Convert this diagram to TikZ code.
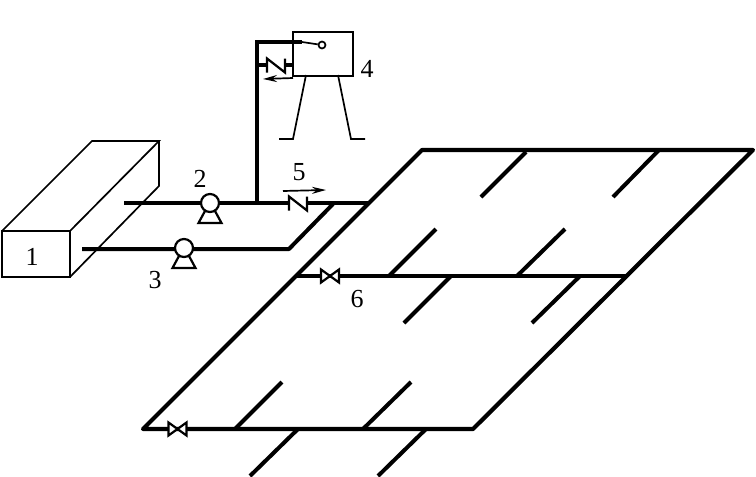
\documentclass[tikz,border=0pt]{standalone}
\usepackage{fontspec}
\setmainfont{Liberation Serif}
\usetikzlibrary{arrows.meta}
\tikzset{
  pipe/.style={line width=4.2pt,line cap=round,line join=miter,draw=black},
  branch/.style={line width=4pt,line cap=butt,draw=black},
  thin line/.style={line width=1.7pt,draw=black},
  lbl/.style={font=\fontsize{26}{26}\selectfont,inner sep=0pt},
  pumpbody/.style={circle,draw=black,line width=2.2pt,fill=white,minimum size=18pt,inner sep=0pt},
  bowtie/.pic={\draw[line width=2.2pt,fill=white,draw=black,line join=miter] (-9,-6.5)--(9,6.5)--(9,-6.5)--(-9,6.5)--cycle;},
  check/.pic={\fill[white](-9,-7)rectangle(9,7);\draw[line width=2.2pt,draw=black] (-9,7)--(-9,-7)--(9,7)--(9,-7);},
  pumpfoot/.pic={\draw[line width=2.2pt,draw=black,fill=white] (-5,8)--(5,8)--(11.5,20)--(-11.5,20)--cycle;},
}
\begin{document}
\begin{tikzpicture}[x=1pt,y=-1pt]
\useasboundingbox (0,0) rectangle (756,477);
% tank
\coordinate (tfl) at (2,231); \coordinate (tfr) at (70,231);
\coordinate (tbl) at (92,141); \coordinate (tbr) at (159,141);
\coordinate (tbb) at (159,186); \coordinate (tdr) at (70,277); \coordinate (tdl) at (2,277);
\draw[thin line,line join=miter] (tfl)--(tfr)--(tdr)--(tdl)--cycle;
\draw[thin line] (tfl)--(tbl)--(tbr)--(tfr);
\draw[thin line] (tbr)--(tbb)--(tdr);
\node[lbl] (n1) at (32,257) {1};
% grid
\coordinate (a) at (422,150); \coordinate (b) at (753,150);
\coordinate (c) at (473,429); \coordinate (d) at (143,429);
\coordinate (e) at (297,276); \coordinate (f) at (628,276);
\draw[pipe,line join=round] (a)--(b)--(c)--(d)--cycle;
\draw[branch] (e)--(f);
\draw[branch] (526,152)--(481,197);
\draw[branch] (659,150)--(613,197);
\draw[branch] (436,229)--(389,276);
\draw[branch] (565,229)--(517,276);
\draw[branch] (451,276)--(404,323);
\draw[branch] (580,276)--(532,323);
\draw[branch] (282,382)--(235,429);
\draw[branch] (411,382)--(363,429);
\draw[branch] (298,429)--(250,476);
\draw[branch] (426,429)--(378,476);
% pipes
\coordinate (p2s) at (124,203); \coordinate (p2e) at (370,203);
\coordinate (p3s) at (82,249); \coordinate (p3k) at (289,249); \coordinate (p3e) at (333,204);
\coordinate (vb) at (257,203); \coordinate (vt) at (257,42); \coordinate (vr) at (302,42);
\draw[branch] (p2s)--(p2e);
\draw[branch,line join=round] (p3s)--(p3k)--(p3e);
\draw[pipe,line cap=butt,line width=4.6pt] (vb)--(vt)--(vr);
% pumps
\pic at (210,203) {pumpfoot};
\node[pumpbody] (pump2) at (210,203) {};
\pic at (184,248) {pumpfoot};
\node[pumpbody] (pump3) at (184,248) {};
\node[lbl] (n2) at (200,179) {2};
\node[lbl] (n3) at (155,280) {3};
% valve 5
\pic at (298,203.5) {check};
\draw[thin line,-{Stealth[length=14pt,width=7pt]}] (283,191)--(326,190);
\node[lbl] (n5) at (299,172) {5};
% valves
\pic at (330,276) {bowtie};
\pic at (177.5,429) {bowtie};
\node[lbl] (n6) at (357,299) {6};
% box 4
\node[draw=black,line width=1.7pt,minimum width=60pt,minimum height=44pt,inner sep=0pt,fill=white,anchor=north west] (box4) at (292,31) {};
\draw[pipe,line cap=butt,line width=4.6pt] (vt)--(vr);
\node[circle,draw=black,line width=1.7pt,minimum size=7pt,inner sep=0pt] (sw) at (322,45) {};
\draw[thin line] (vr)--(sw);
\coordinate (l1) at (306,75); \coordinate (l2) at (293,139); \coordinate (l3) at (279,139);
\coordinate (r1) at (338,75); \coordinate (r2) at (351,139); \coordinate (r3) at (365,139);
\draw[thin line] (l1)--(l2)--(l3);
\draw[thin line] (r1)--(r2)--(r3);
\node[lbl] (n4) at (367,69) {4};
% check valve on branch
\coordinate (cs) at (257,65); \coordinate (ce) at (292,65);
\draw[line width=3.6pt] (cs)--(ce);
\pic at (276,65.5) {check};
\draw[thin line,-{Stealth[length=14pt,width=7pt]}] (293,78)--(263,79);
\end{tikzpicture}
\end{document}
